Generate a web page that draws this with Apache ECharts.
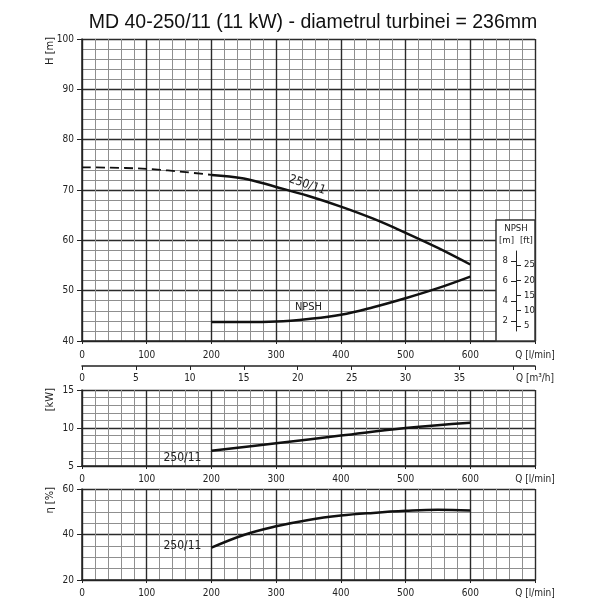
<!DOCTYPE html>
<html><head><meta charset="utf-8">
<script src="https://cdn.jsdelivr.net/npm/echarts@6/dist/echarts.min.js"></script>
<style>html,body{margin:0;padding:0;background:#fff}#c{width:608px;height:608px}</style>
</head><body><div id="c"></div>
<script>
const titleText = 'MD 40-250/11 (11 kW) - diametrul turbinei = 236mm';
const curveName = '250/11';
const flowTicks = [0, 100, 200, 300, 400, 500, 600];
const m3hTicks = [0, 5, 10, 15, 20, 25, 30, 35];
const headFlow = [0, 100, 200, 250, 300, 350, 400, 450, 500, 550, 600];
const headValues = [74.5, 74.2, 73.0, 72.3, 70.6, 68.8, 66.7, 64.3, 61.5, 58.5, 55.2];
const npshFlow = [200, 250, 300, 350, 400, 450, 500, 550, 600];
const npshValues = [1.88, 1.88, 1.93, 2.18, 2.6, 3.35, 4.25, 5.25, 6.4];
const powerFlow = [200, 300, 400, 500, 600];
const powerValues = [7.0, 8.0, 9.0, 10.0, 10.7];
const effFlow = [200, 250, 300, 350, 400, 450, 500, 550, 600];
const effValues = [34.2, 39.8, 43.6, 46.4, 48.3, 49.5, 50.4, 50.9, 50.6];
const npshMTicks = [2, 4, 6, 8];
const npshFtTicks = [5, 10, 15, 20, 25];
const FT_PER_M = 3.28084;

const FONT = "'Liberation Sans Narrow', 'DejaVu Sans Condensed', sans-serif";
const pairs = (xs, ys) => xs.map((x, i) => [x, ys[i]]);
const headAll = pairs(headFlow, headValues);
const headDashed = headAll.filter(p => p[0] <= 200);
const headSolid = headAll.filter(p => p[0] >= 200);

const MAJOR = '#2a2a2a';
const MINOR = '#8f8f8f';
const lbl = { fontFamily: FONT, fontSize: 10, color: '#222' };

function flowAxis(grid, margin) {
  return {
    type: 'value', gridIndex: grid, min: 0, max: 700, interval: 100,
    axisLine: { show: true, lineStyle: { color: '#222', width: 1.5 } },
    axisTick: { show: true, length: 3, lineStyle: { color: '#222' } },
    axisLabel: Object.assign({}, lbl, {
      margin: margin, customValues: flowTicks.concat([700]),
      formatter: v => v === 700 ? 'Q [l/min]' : String(v)
    }),
    splitLine: { show: true, lineStyle: { color: MAJOR, width: 1.4 } },
    minorTick: { show: false, splitNumber: 5 },
    minorSplitLine: { show: true, lineStyle: { color: MINOR, width: 1 } }
  };
}
function valAxis(grid, min, max, interval, minorN, name) {
  return {
    type: 'value', gridIndex: grid, min: min, max: max, interval: interval,
    name: name, nameLocation: 'end', nameRotate: 90, nameGap: 2, nameMoveOverlap: false,
    nameTextStyle: { fontFamily: FONT, fontSize: 11, color: '#222', align: 'right', verticalAlign: 'bottom', padding: [0, 0, 26, 0] },
    axisLine: { show: true, lineStyle: { color: '#222', width: 1.5 } },
    axisTick: { show: true, length: 5, lineStyle: { color: '#222' } },
    axisLabel: Object.assign({}, lbl, { margin: 8 }),
    splitLine: { show: true, lineStyle: { color: MAJOR, width: 1.4 } },
    minorTick: { show: false, splitNumber: minorN },
    minorSplitLine: { show: true, lineStyle: { color: MINOR, width: 1 } }
  };
}
const curveLabel = (extra) => Object.assign({ show: true, formatter: curveName, fontFamily: FONT, fontSize: 12, color: '#222' }, extra);

const option = {
  animation: false,
  backgroundColor: '#fff',
  title: [
    { text: titleText, left: 308, top: 8, textAlign: 'center',
      textStyle: { fontFamily: "'Liberation Sans', Arial, sans-serif", fontSize: 19.5, fontWeight: 'normal', color: '#111' } },
    { text: 'NPSH', left: 516, top: 224, padding: 0, textAlign: 'center', z: 20,
      textStyle: { fontFamily: FONT, fontSize: 9.5, fontWeight: 'normal', color: '#222' } }
  ],
  grid: [
    { left: 82, top: 39, width: 453, height: 302 },
    { left: 82, top: 390, width: 453, height: 76 },
    { left: 82, top: 489, width: 453, height: 91 },
    { left: 496, top: 220, width: 39, height: 121, show: true, backgroundColor: '#fff', borderColor: '#333', borderWidth: 1.5, z: 10 },
    { left: 496, top: 251, width: 39, height: 80 }
  ],
  xAxis: [
    flowAxis(0, 9),
    {
      type: 'value', gridIndex: 0, min: 0, max: 42, interval: 5, position: 'bottom', offset: 25,
      axisLine: { show: true, lineStyle: { color: '#222', width: 1.5 } },
      axisTick: { show: true, length: 4, lineStyle: { color: '#222' } },
      axisLabel: Object.assign({}, lbl, { margin: 7, customValues: m3hTicks.concat([42]),
        formatter: v => v === 42 ? 'Q [m³/h]' : String(v) }),
      splitLine: { show: false }
    },
    flowAxis(1, 8),
    flowAxis(2, 8),
    { type: 'value', gridIndex: 3, show: false },
    { type: 'value', gridIndex: 4, show: false }
  ],
  yAxis: [
    valAxis(0, 40, 100, 10, 5, 'H [m]'),
    { type: 'value', gridIndex: 0, min: 0, max: 30, show: false },
    valAxis(1, 5, 15, 5, 5, '[kW]'),
    valAxis(2, 20, 60, 20, 4, 'η [%]'),
    { type: 'value', gridIndex: 3, show: false },
    {
      type: 'value', gridIndex: 4, min: 1, max: 9, position: 'left', offset: -20, z: 12,
      name: '[m]', nameLocation: 'end', nameGap: 5, nameMoveOverlap: false,
      nameTextStyle: { fontFamily: FONT, fontSize: 9.5, color: '#222', align: 'right', padding: [0, 2, 0, 0] },
      axisLine: { show: true, lineStyle: { color: '#222', width: 1 } },
      axisTick: { show: true, length: 5, customValues: npshMTicks, lineStyle: { color: '#222' } },
      axisLabel: Object.assign({}, lbl, { fontSize: 9.5, margin: 8, customValues: npshMTicks }),
      splitLine: { show: false }
    },
    {
      type: 'value', gridIndex: 4, min: FT_PER_M, max: 9 * FT_PER_M, position: 'right', offset: -19, z: 12,
      name: '[ft]', nameLocation: 'end', nameGap: 5, nameMoveOverlap: false,
      nameTextStyle: { fontFamily: FONT, fontSize: 9.5, color: '#222', align: 'left', padding: [0, 0, 0, 4] },
      axisLine: { show: false },
      axisTick: { show: true, length: 5, customValues: npshFtTicks, lineStyle: { color: '#222' } },
      axisLabel: Object.assign({}, lbl, { fontSize: 9.5, margin: 8, customValues: npshFtTicks }),
      splitLine: { show: false }
    }
  ],
  series: [
    { type: 'line', xAxisIndex: 0, yAxisIndex: 0, data: headDashed, smooth: 0.4, symbol: 'none',
      lineStyle: { color: '#111', width: 1.8, type: [9, 5] }, z: 3 },
    { type: 'line', xAxisIndex: 0, yAxisIndex: 0, data: headSolid, smooth: 0.4, symbol: 'none',
      lineStyle: { color: '#111', width: 2.5 }, z: 3,
      markPoint: { symbol: 'circle', symbolSize: 0, silent: true,
        data: [{ coord: [348, 71.0], label: curveLabel({ position: 'inside', rotate: -19 }) }] } },
    { type: 'line', xAxisIndex: 0, yAxisIndex: 1, data: pairs(npshFlow, npshValues), smooth: 0.4, symbol: 'none',
      lineStyle: { color: '#111', width: 2.5 }, z: 3,
      markPoint: { symbol: 'circle', symbolSize: 0, silent: true,
        data: [{ coord: [350, 3.35], label: { show: true, formatter: 'NPSH', position: 'inside', fontFamily: FONT, fontSize: 11, color: '#222' } }] } },
    { type: 'line', xAxisIndex: 2, yAxisIndex: 2, data: pairs(powerFlow, powerValues), smooth: 0.4, symbol: 'none',
      lineStyle: { color: '#111', width: 2.5 }, z: 3,
      markPoint: { symbol: 'circle', symbolSize: 0, silent: true,
        data: [{ coord: [powerFlow[0], powerValues[0]], label: curveLabel({ position: 'left', distance: 10, offset: [0, 7] }) }] } },
    { type: 'line', xAxisIndex: 3, yAxisIndex: 3, data: pairs(effFlow, effValues), smooth: 0.4, symbol: 'none',
      lineStyle: { color: '#111', width: 2.5 }, z: 3,
      markPoint: { symbol: 'circle', symbolSize: 0, silent: true,
        data: [{ coord: [effFlow[0], effValues[0]], label: curveLabel({ position: 'left', distance: 10, offset: [0, -2] }) }] } }
  ]
};
const chart = echarts.init(document.getElementById('c'), null, { renderer: 'canvas' });
chart.setOption(option);
</script>
</body></html>
